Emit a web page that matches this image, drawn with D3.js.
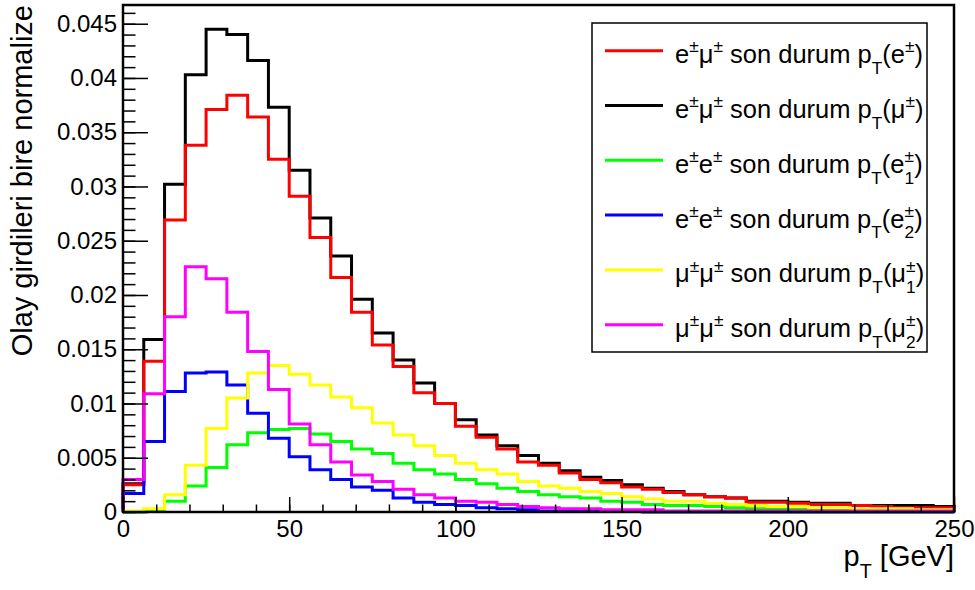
<!DOCTYPE html>
<html>
<head>
<meta charset="utf-8">
<script src="https://cdn.jsdelivr.net/npm/d3@7"></script>
<style>
  html, body { margin: 0; padding: 0; background: #fff; }
  svg { display: block; }
  text { font-family: "Liberation Sans", Arial, Helvetica, sans-serif; fill: #000; }
</style>
</head>
<body>
<svg id="chart" width="975" height="590"></svg>
<script>
// 40 bins of 6.25 GeV between 0 and 250
var binEdges = d3.range(0, 250.001, 6.25);

// normalised bin contents
var emuElectron = [0.0025, 0.0139, 0.0269, 0.0338, 0.0371, 0.0384, 0.0364, 0.0325, 0.0291, 0.0253,
  0.0216, 0.0184, 0.0154, 0.0134, 0.0110, 0.0100, 0.0079, 0.0069, 0.0058, 0.0046,
  0.0043, 0.0036, 0.0030, 0.0027, 0.0023, 0.0021, 0.0018, 0.0016, 0.0014, 0.0013,
  0.0009, 0.0009, 0.0008, 0.0007, 0.0007, 0.0006, 0.0005, 0.0004, 0.0004, 0.0004];
var emuMuon = [0.0026, 0.0159, 0.0302, 0.0403, 0.0445, 0.0440, 0.0416, 0.0373, 0.0315, 0.0271,
  0.0236, 0.0196, 0.0165, 0.0140, 0.0119, 0.0100, 0.0085, 0.0071, 0.0061, 0.0052,
  0.0045, 0.0038, 0.0032, 0.0029, 0.0025, 0.0022, 0.0019, 0.0016, 0.0014, 0.0013,
  0.0010, 0.0010, 0.0009, 0.0008, 0.0008, 0.0006, 0.0006, 0.0006, 0.0006, 0.0005];
var eeLeading = [0.0000, 0.0002, 0.0010, 0.0024, 0.0041, 0.0062, 0.0073, 0.0076, 0.0077, 0.0072,
  0.0065, 0.0058, 0.0054, 0.0045, 0.0039, 0.0035, 0.0030, 0.0026, 0.0022, 0.0019,
  0.0016, 0.0014, 0.0013, 0.0010, 0.0009, 0.0007, 0.0006, 0.0006, 0.0005, 0.0004,
  0.0003, 0.0003, 0.0003, 0.0002, 0.0002, 0.0002, 0.0002, 0.0001, 0.0001, 0.0001];
var eeSubleading = [0.0017, 0.0065, 0.0111, 0.0128, 0.0129, 0.0117, 0.0091, 0.0068, 0.0051, 0.0039,
  0.0030, 0.0023, 0.0020, 0.0013, 0.0009, 0.0007, 0.0006, 0.0004, 0.0003, 0.0002,
  0.0001, 0.0001, 0.0001, 0.0001, 0.0001, 0.0000, 0.0000, 0.0000, 0.0000, 0.0000,
  0.0000, 0.0000, 0.0000, 0.0000, 0.0000, 0.0000, 0.0000, 0.0000, 0.0000, 0.0000];
var mumuLeading = [0.0001, 0.0003, 0.0016, 0.0043, 0.0077, 0.0105, 0.0128, 0.0135, 0.0127, 0.0117,
  0.0106, 0.0096, 0.0082, 0.0071, 0.0061, 0.0052, 0.0045, 0.0039, 0.0035, 0.0028,
  0.0024, 0.0022, 0.0019, 0.0017, 0.0014, 0.0012, 0.0010, 0.0010, 0.0008, 0.0007,
  0.0006, 0.0005, 0.0005, 0.0004, 0.0004, 0.0003, 0.0003, 0.0003, 0.0002, 0.0002];
var mumuSubleading = [0.0030, 0.0109, 0.0180, 0.0226, 0.0215, 0.0184, 0.0148, 0.0113, 0.0081, 0.0062,
  0.0046, 0.0034, 0.0028, 0.0021, 0.0016, 0.0013, 0.0010, 0.0009, 0.0007, 0.0005,
  0.0004, 0.0003, 0.0003, 0.0002, 0.0002, 0.0002, 0.0001, 0.0001, 0.0001, 0.0001,
  0.0001, 0.0001, 0.0001, 0.0001, 0.0001, 0.0001, 0.0001, 0.0001, 0.0001, 0.0001];

// legend text, ^{} = superscript, _{} = subscript (a ^{} followed by _{} is stacked)
var legendLabels = [
  'e^{±}μ^{±} son durum p_{T}(e^{±})',
  'e^{±}μ^{±} son durum p_{T}(μ^{±})',
  'e^{±}e^{±} son durum p_{T}(e^{±}_{1})',
  'e^{±}e^{±} son durum p_{T}(e^{±}_{2})',
  'μ^{±}μ^{±} son durum p_{T}(μ^{±}_{1})',
  'μ^{±}μ^{±} son durum p_{T}(μ^{±}_{2})'
];
var legendColors = ['#ff0000', '#000000', '#00ff00', '#0000ff', '#ffff00', '#ff00ff'];
var legendSeries = [emuElectron, emuMuon, eeLeading, eeSubleading, mumuLeading, mumuSubleading];

// black is painted first so red sits on top of it, as in the original
var drawOrder = [1, 0, 2, 3, 4, 5];

var xTitle = 'p_{T} [GeV]';
var yTitle = 'Olay girdileri bire normalize';
var yMajorTicks = d3.range(0, 0.0451, 0.005);
var yMinorTicks = d3.range(0, 0.0466, 0.001);
var xMajorTicks = [0, 50, 100, 150, 200, 250];
var xMinorTicks = d3.range(0, 251, 10);

var frame = {left: 123, right: 954, top: 5, bottom: 512};
var svg = d3.select('#chart');

var x = d3.scaleLinear().domain([0, 250]).range([frame.left, frame.right]);
var yMax = 1.05 * d3.max(emuMuon);
var y = d3.scaleLinear().domain([0, yMax]).range([frame.bottom, frame.top]);


/**
 * Writes ROOT-like text with sub/superscripts into a text element.
 * @param {d3.Selection} textSel the text element
 * @param {string} label the label with ^{} and _{} markup
 * @param {number} size base font size
 */
function writeLatex(textSel, label, size) {
  var tokens = label.match(/\^\{[^}]*\}|_\{[^}]*\}|[^^_]+/g);
  var small = size * 0.68;
  var offset = 0;
  var pendingDx = 0;
  var lastSup = null;

  tokens.forEach(function(tok) {
    var kind = tok[0] === '^' ? 'sup' : tok[0] === '_' ? 'sub' : 'txt';
    var str = kind === 'txt' ? tok : tok.slice(2, -1);
    var target = kind === 'sup' ? -size * 0.42 : kind === 'sub' ? size * 0.42 : 0;
    var dx = pendingDx;
    pendingDx = 0;

    if (kind === 'sub' && lastSup) {
      // stack under the superscript just written
      dx = -lastSup.node().getComputedTextLength();
    }
    var span = textSel.append('tspan')
        .attr('dy', target - offset)
        .attr('dx', dx || null)
        .style('font-size', (kind === 'txt' ? size : small) + 'px')
        .text(str);
    offset = target;

    if (kind === 'sub' && lastSup) {
      var supW = lastSup.node().getComputedTextLength();
      var subW = span.node().getComputedTextLength();
      pendingDx = Math.max(0, supW - subW);
    }
    lastSup = kind === 'sup' ? span : null;
  });
}


// histogram outline, drawn ROOT style from the baseline up and back down
var histLine = function(values) {
  var pts = [[x(binEdges[0]), y(0)]];
  values.forEach(function(v, i) {
    pts.push([x(binEdges[i]), y(v)]);
    pts.push([x(binEdges[i + 1]), y(v)]);
  });
  pts.push([x(binEdges[values.length]), y(0)]);
  return d3.line()(pts);
};

var plot = svg.append('g');
drawOrder.forEach(function(idx) {
  plot.append('path')
      .attr('d', histLine(legendSeries[idx]))
      .attr('fill', 'none')
      .attr('stroke', legendColors[idx])
      .attr('stroke-width', 3)
      .attr('stroke-linejoin', 'miter');
});

// axes: ticks point into the frame
var yAxisMajor = d3.axisLeft(y).tickValues(yMajorTicks).tickSize(-25).tickPadding(6)
    .tickFormat(function(d) { return String(+d.toFixed(3)); });
var yAxisMinor = d3.axisLeft(y).tickValues(yMinorTicks).tickSize(-12.5).tickFormat('');
var xAxisMajor = d3.axisBottom(x).tickValues(xMajorTicks).tickSize(-15).tickPadding(8)
    .tickFormat(d3.format('d'));
var xAxisMinor = d3.axisBottom(x).tickValues(xMinorTicks).tickSize(-7.5).tickFormat('');

[[yAxisMinor, 'translate(' + frame.left + ',0)'], [yAxisMajor, 'translate(' + frame.left + ',0)'],
  [xAxisMinor, 'translate(0,' + frame.bottom + ')'], [xAxisMajor, 'translate(0,' + frame.bottom + ')']]
    .forEach(function(a) {
      var g = svg.append('g').attr('transform', a[1]).call(a[0]);
      g.select('.domain').remove();
      g.selectAll('line').attr('stroke', '#000').attr('stroke-width', 1.5);
      g.selectAll('text').style('font-size', '24px').attr('fill', '#000')
          .style('font-family', '"Liberation Sans", Arial, Helvetica, sans-serif');
    });

// frame
svg.append('rect')
    .attr('x', frame.left)
    .attr('y', frame.top)
    .attr('width', frame.right - frame.left)
    .attr('height', frame.bottom - frame.top)
    .attr('fill', 'none')
    .attr('stroke', '#000')
    .attr('stroke-width', 2.5);

// axis titles
var xt = svg.append('text')
    .attr('x', frame.right)
    .attr('y', 566)
    .attr('text-anchor', 'end');
writeLatex(xt, xTitle, 29);

svg.append('text')
    .attr('transform', 'translate(32,' + frame.top + ') rotate(-90)')
    .attr('text-anchor', 'end')
    .style('font-size', '29px')
    .text(yTitle);

// legend
var legend = {left: 592, top: 23, right: 927, bottom: 352, rowGap: 54.8};
var lg = svg.append('g');
lg.append('rect')
    .attr('x', legend.left)
    .attr('y', legend.top)
    .attr('width', legend.right - legend.left)
    .attr('height', legend.bottom - legend.top)
    .attr('fill', '#fff')
    .attr('stroke', '#000')
    .attr('stroke-width', 1.5);

legendLabels.forEach(function(label, i) {
  var cy = legend.top + 27.7 + i * legend.rowGap;
  lg.append('line')
      .attr('x1', legend.left + 13)
      .attr('x2', legend.left + 71)
      .attr('y1', cy)
      .attr('y2', cy)
      .attr('stroke', legendColors[i])
      .attr('stroke-width', 3);
  var t = lg.append('text')
      .attr('x', legend.left + 83)
      .attr('y', cy + 12.5);
  writeLatex(t, label, 25.5);
});
</script>
</body>
</html>
